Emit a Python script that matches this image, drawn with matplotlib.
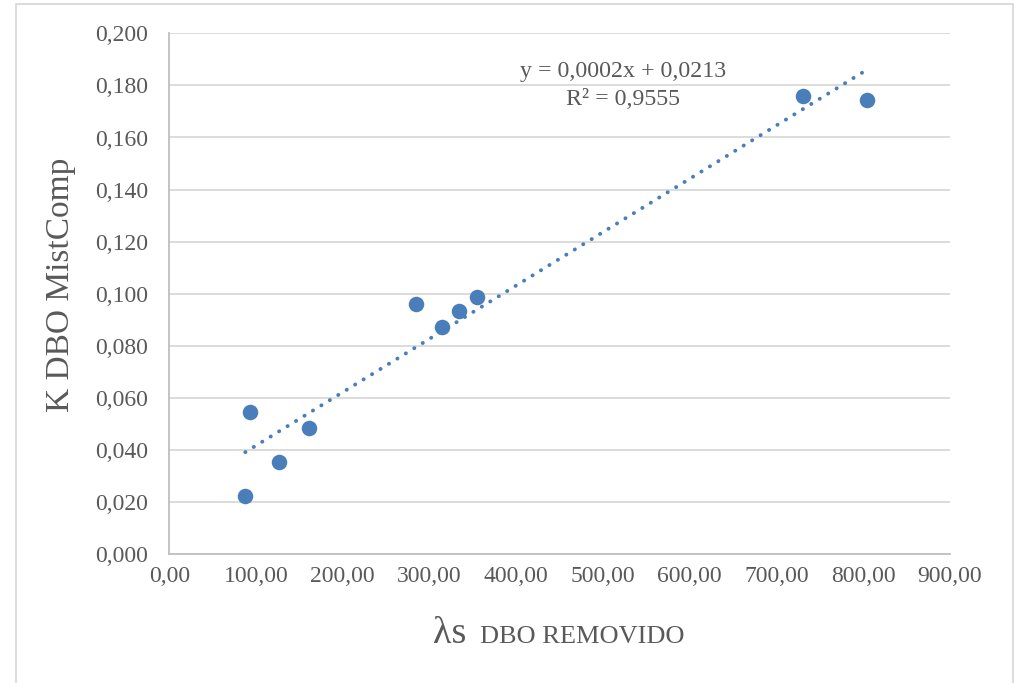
import numpy as np
import matplotlib
matplotlib.use("Agg")
import matplotlib.pyplot as plt
from matplotlib.patches import Rectangle

# Data
lambda_s = [87.6, 93.4, 126.1, 161.1, 284.4, 314.7, 333.6, 355.1, 731.0, 804.0]
k_dbo = [0.0224, 0.0545, 0.0353, 0.0485, 0.0961, 0.0874, 0.0933, 0.0989, 0.1760, 0.1744]
x_ticks = [0, 100, 200, 300, 400, 500, 600, 700, 800, 900]
x_tick_labels = ["0,00", "100,00", "200,00", "300,00", "400,00", "500,00",
                 "600,00", "700,00", "800,00", "900,00"]
y_ticks = [0.0, 0.02, 0.04, 0.06, 0.08, 0.10, 0.12, 0.14, 0.16, 0.18, 0.20]
y_tick_labels = ["0,000", "0,020", "0,040", "0,060", "0,080", "0,100",
                 "0,120", "0,140", "0,160", "0,180", "0,200"]
eq_text = "y = 0,0002x + 0,0213"
r2_text = "R² = 0,9555"

plt.rcParams['font.family'] = ['Liberation Serif', 'DejaVu Serif']
TXT = '#595959'
BLUE = '#4a7ebb'

fig = plt.figure(figsize=(10.18, 6.83), dpi=100)
fig.patch.set_facecolor('white')
ax = fig.add_axes([169.3 / 1018, (683 - 554.3) / 683, (950 - 169.3) / 1018, (554.3 - 33.3) / 683])

# outer chart-area border
fig.patches.append(Rectangle((16 / 1018, -0.05), (1013 - 16) / 1018, (683 - 4) / 683 + 0.05,
                             transform=fig.transFigure, fill=False, edgecolor='#d9d9d9',
                             linewidth=1.3, clip_on=False))

ax.set_xlim(0, 900)
ax.set_ylim(0, 0.2)
ax.set_xticks(x_ticks)
ax.set_xticklabels(x_tick_labels)
ax.set_yticks(y_ticks)
ax.set_yticklabels(y_tick_labels)
ax.tick_params(axis='both', length=0, labelsize=17, labelcolor=TXT)
ax.tick_params(axis='x', pad=8.5)
ax.tick_params(axis='y', pad=15)
ax.grid(axis='y', color='#d9d9d9', linewidth=1.3)
ax.set_axisbelow(True)
for s in ['top', 'right']:
    ax.spines[s].set_visible(False)
for s in ['left', 'bottom']:
    ax.spines[s].set_color('#bfbfbf')
    ax.spines[s].set_linewidth(1.3)

# trendline (least squares)
x = np.array(lambda_s)
y = np.array(k_dbo)
m, b = np.polyfit(x, y, 1)
xt = np.array([x.min(), x.max()])
ax.plot(xt, m * xt + b, color=BLUE, linewidth=2.8, linestyle=(0, (0.05, 2.5)),
        dash_capstyle='round', zorder=2)

ax.scatter(lambda_s, k_dbo, s=125, color=BLUE, zorder=3, linewidths=0)

ax.text(523, 0.1855, eq_text, fontsize=17.2, color=TXT, ha='center', va='center')
ax.text(523, 0.1745, r2_text, fontsize=17.2, color=TXT, ha='center', va='center')

fig.text(61 / 1018, 1 - 285 / 683, "K DBO MistComp", rotation=90, fontsize=24,
         color=TXT, ha='center', va='center')
fig.text(433 / 1018, 1 - 643 / 683, "λs", fontsize=27.5, color=TXT, ha='left', va='baseline')
fig.text(480 / 1018, 1 - 643 / 683, "DBO REMOVIDO", fontsize=19, color=TXT,
         ha='left', va='baseline')

fig.savefig('out.png', dpi=100, facecolor='white')
